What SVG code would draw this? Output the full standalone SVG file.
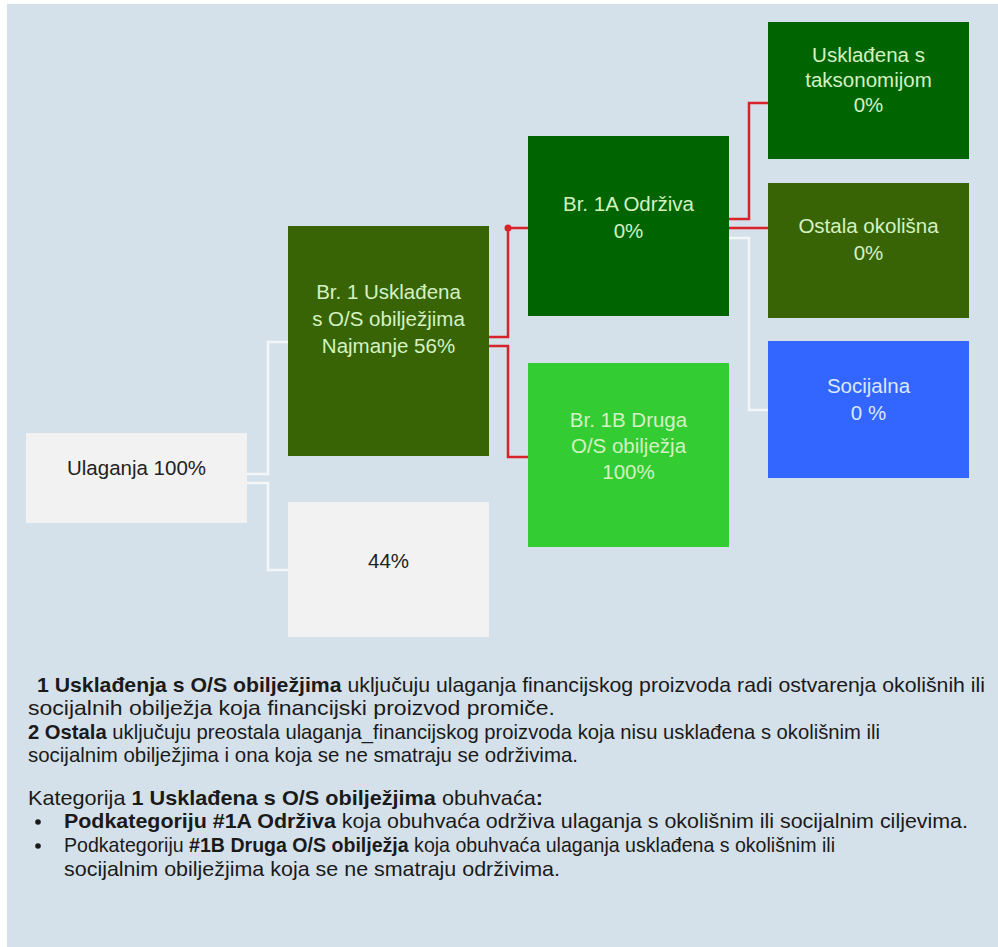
<svg xmlns="http://www.w3.org/2000/svg" width="998" height="947" viewBox="0 0 998 947">
<style>
.box text{font-family:"Liberation Sans",Arial,sans-serif;font-size:20.5px;text-anchor:middle}
.lt text{fill:#d4f2c2}
.dk text{fill:#222222}
.red{fill:none;stroke:#d9232b;stroke-width:2.5}
.wht{fill:none;stroke:#f4f6f8;stroke-width:2.5}
.note{font-family:"Liberation Sans",Arial,sans-serif;font-size:21px;fill:#1a1a1a}
.b{font-weight:bold}
</style>
<rect x="0" y="0" width="998" height="947" fill="#ffffff"/>
<rect x="7" y="4" width="991" height="943" fill="#d5e1ea"/>
<g id="connectors">
<polyline class="wht" points="247,474 268,474 268,342 288,342"/>
<polyline class="wht" points="247,483 268,483 268,570 288,570"/>
<polyline class="red" points="489,337 508,337 508,228 528,228"/>
<circle cx="508" cy="228" r="3.5" fill="#d9232b"/>
<polyline class="red" points="489,346 508,346 508,457 528,457"/>
<polyline class="red" points="729,219 749,219 749,103 768,103"/>
<polyline class="red" points="729,228 768,228"/>
<polyline class="wht" points="729,238 749,238 749,410 768,410"/>
</g>
<g id="ulaganja" class="box dk">
<rect x="26" y="433" width="221" height="90" fill="#f2f2f2"/>
<text x="136.5" y="475">Ulaganja 100%</text>
</g>
<g id="ostalo44" class="box dk">
<rect x="288" y="502" width="201" height="135" fill="#f2f2f2"/>
<text x="388.5" y="568">44%</text>
</g>
<g id="br1" class="box lt">
<rect x="288" y="226" width="201" height="230" fill="#386405"/>
<text x="388.5" y="299">Br. 1 Usklađena</text>
<text x="388.5" y="326">s O/S obilježjima</text>
<text x="388.5" y="353">Najmanje 56%</text>
</g>
<g id="br1a" class="box lt">
<rect x="528" y="136" width="201" height="180" fill="#006400"/>
<text x="628.5" y="211">Br. 1A Održiva</text>
<text x="628.5" y="238">0%</text>
</g>
<g id="br1b" class="box lt">
<rect x="528" y="363" width="201" height="184" fill="#33cc33"/>
<text x="628.5" y="427">Br. 1B Druga</text>
<text x="628.5" y="453">O/S obilježja</text>
<text x="628.5" y="479">100%</text>
</g>
<g id="taksonomija" class="box lt">
<rect x="768" y="22" width="201" height="137" fill="#006400"/>
<text x="868.5" y="62">Usklađena s</text>
<text x="868.5" y="87">taksonomijom</text>
<text x="868.5" y="112">0%</text>
</g>
<g id="okolisna" class="box lt">
<rect x="768" y="183" width="201" height="135" fill="#386405"/>
<text x="868.5" y="233">Ostala okolišna</text>
<text x="868.5" y="260">0%</text>
</g>
<g id="socijalna" class="box">
<rect x="768" y="341" width="201" height="137" fill="#3366ff"/>
<text x="868.5" y="393" fill="#dce8ff">Socijalna</text>
<text x="868.5" y="420" fill="#dce8ff">0 %</text>
</g>
<g id="notes">
<text class="note" x="37" y="692" textLength="948" lengthAdjust="spacingAndGlyphs"><tspan class="b">1 Usklađenja s O/S obilježjima</tspan> uključuju ulaganja financijskog proizvoda radi ostvarenja okolišnih ili</text>
<text class="note" x="28" y="715" textLength="527" lengthAdjust="spacingAndGlyphs">socijalnih obilježja koja financijski proizvod promiče.</text>
<text class="note" x="28" y="739" textLength="852" lengthAdjust="spacingAndGlyphs"><tspan class="b">2 Ostala</tspan> uključuju preostala ulaganja_financijskog proizvoda koja nisu usklađena s okolišnim ili</text>
<text class="note" x="28" y="762" textLength="550" lengthAdjust="spacingAndGlyphs">socijalnim obilježjima i ona koja se ne smatraju se održivima.</text>
<text class="note" x="28" y="805" textLength="515" lengthAdjust="spacingAndGlyphs">Kategorija <tspan class="b">1 Usklađena s O/S obilježjima</tspan> obuhvaća<tspan class="b">:</tspan></text>
<circle cx="38" cy="822" r="2.8" fill="#1a1a1a"/>
<text class="note" x="64" y="828" textLength="904" lengthAdjust="spacingAndGlyphs"><tspan class="b">Podkategoriju #1A Održiva</tspan> koja obuhvaća održiva ulaganja s okolišnim ili socijalnim ciljevima.</text>
<circle cx="38" cy="846" r="2.8" fill="#1a1a1a"/>
<text class="note" x="64" y="852" textLength="771" lengthAdjust="spacingAndGlyphs">Podkategoriju <tspan class="b">#1B Druga O/S  obilježja</tspan> koja obuhvaća ulaganja usklađena s okolišnim ili</text>
<text class="note" x="64" y="876" textLength="496" lengthAdjust="spacingAndGlyphs">socijalnim obilježjima koja se ne smatraju održivima.</text>
</g>
</svg>
